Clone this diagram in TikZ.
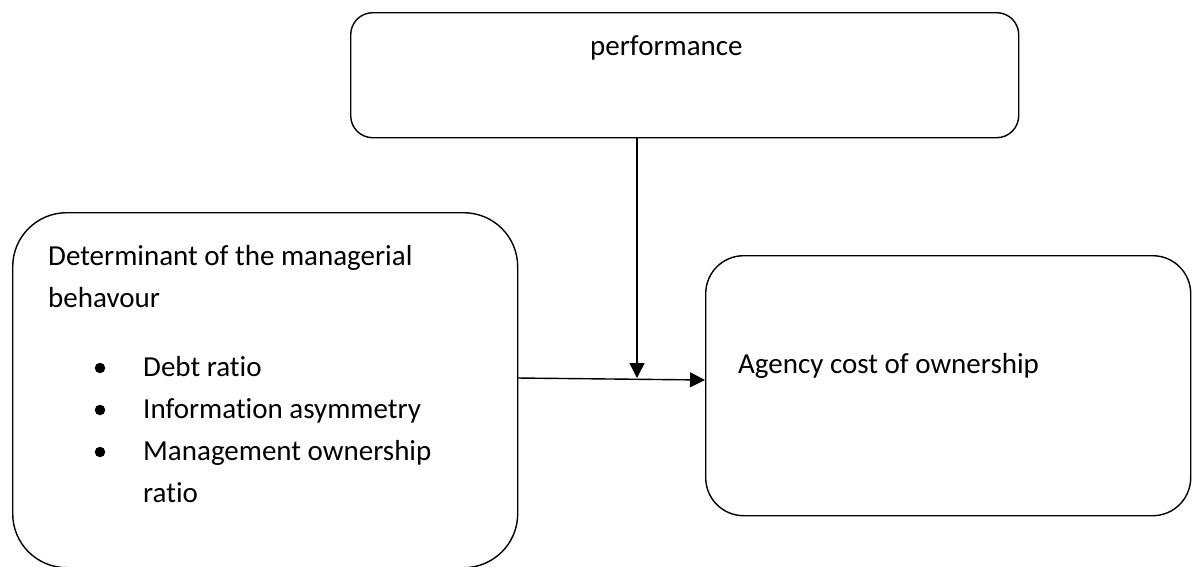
\documentclass[tikz,border=0pt]{standalone}
\usepackage{fontspec}
\setmainfont{Carlito}[Ligatures={NoCommon,NoContextual}]
\usetikzlibrary{arrows.meta}
\begin{document}
\begin{tikzpicture}[x=1pt,y=-1pt,
  box/.style={draw, line width=1.4pt, rectangle, anchor=north west, inner sep=0pt},
  txt/.style={anchor=base west, inner sep=0pt, font=\fontsize{29}{42}\selectfont},
  bul/.style={circle, fill, inner sep=0pt, minimum size=10.5pt},
  conn/.style={line width=1.4pt, -{Triangle[width=15pt,length=15pt]}}]
\useasboundingbox (0,0) rectangle (1192,566);
\clip (0,0) rectangle (1192,566);
% boxes
\node[box, rounded corners=22pt, minimum width=668pt, minimum height=125pt] (P) at (350,12) {};
\node[box, rounded corners=54pt, minimum width=505pt, minimum height=355pt] (L) at (12,212) {};
\node[box, rounded corners=38pt, minimum width=485pt, minimum height=260pt] (R) at (705,255) {};
% texts
\node[txt] (tp) at (590,55) {performance};
\node[txt] (t1) at (48,265) {Determinant of the managerial};
\node[txt] (t2) at (48,307) {behavour};
\node[bul] (b1) at (100,368) {};
\node[txt] (i1) at (143,376) {Debt ratio};
\node[bul] (b2) at (100,410) {};
\node[txt] (i2) at (143,418) {Information asymmetry};
\node[bul] (b3) at (100,452) {};
\node[txt] (i3) at (143,460) {Management ownership};
\node[txt] (i4) at (143,502) {ratio};
\node[txt] (ta) at (738,373) {Agency cost of ownership};
% connectors
\coordinate (vend) at (637,378);
\coordinate (hs) at (517,378);
\coordinate (he) at (705,380);
\draw[conn] (P.south -| vend) -- (vend);
\draw[conn] (hs) -- (he);
\end{tikzpicture}
\end{document}
